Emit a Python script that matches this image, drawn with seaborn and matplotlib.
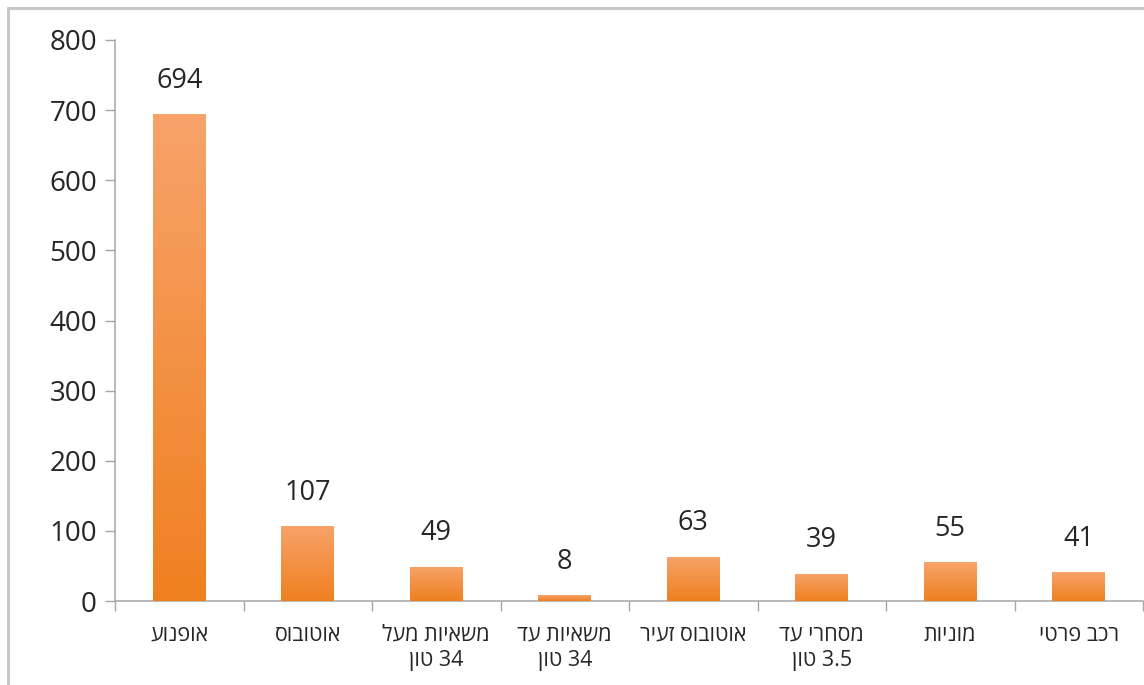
import matplotlib

matplotlib.use("Agg")
import matplotlib.pyplot as plt
import numpy as np
import pandas as pd
import seaborn as sns
from matplotlib.colors import LinearSegmentedColormap
from matplotlib.lines import Line2D

CATEGORIES = [
    "אופנוע",
    "אוטובוס",
    "משאיות מעל\n34 טון",
    "משאיות עד\n34 טון",
    "אוטובוס זעיר",
    "מסחרי עד\n3.5 טון",
    "מוניות",
    "רכב פרטי",
]
VALUES = [694, 107, 49, 8, 63, 39, 55, 41]
Y_TICKS = [0, 100, 200, 300, 400, 500, 600, 700, 800]

TOP_COLOR = "#F7A36A"
BOTTOM_COLOR = "#EF8020"
TEXT_COLOR = "#262626"
AXIS_COLOR = "#A6A6A6"


def is_hebrew(word: str) -> bool:
    return any("\u0590" <= ch <= "\u05FF" for ch in word)


def visual(text: str) -> str:
    """Turn a logical RTL string into left-to-right visual order for matplotlib."""
    lines = []
    for line in text.split("\n"):
        words = line.split(" ")[::-1]
        words = [w[::-1] if is_hebrew(w) else w for w in words]
        lines.append(" ".join(words))
    return "\n".join(lines)


def main() -> None:
    sns.set_theme(style="white")
    plt.rcParams["font.family"] = ["Open Sans", "Liberation Sans", "DejaVu Sans"]

    df = pd.DataFrame({"category": [visual(c) for c in CATEGORIES], "value": VALUES})

    fig = plt.figure(figsize=(11.44, 6.85), dpi=100)
    ax = fig.add_axes([115 / 1144, 1 - 601 / 685, (1143 - 115) / 1144, (601 - 40) / 685])

    sns.barplot(data=df, x="category", y="value", ax=ax, width=0.41,
                color=BOTTOM_COLOR, saturation=1, zorder=2)

    ax.set_xlim(-0.5, len(VALUES) - 0.5)
    ax.set_ylim(0, 800)

    # vertical gradient in each bar, light at the top
    cmap = LinearSegmentedColormap.from_list("bar", [BOTTOM_COLOR, TOP_COLOR])
    grad = np.linspace(0, 1, 256).reshape(-1, 1)
    for patch in ax.patches:
        x, w, h = patch.get_x(), patch.get_width(), patch.get_height()
        im = ax.imshow(grad, extent=[x, x + w, 0, h], origin="lower", cmap=cmap,
                       aspect="auto", zorder=3)
        im.set_clip_path(patch)
        patch.set_facecolor("none")
        patch.set_edgecolor("none")
        ax.annotate(f"{int(h)}", (x + w / 2, h), xytext=(0, 14), textcoords="offset points",
                    ha="center", va="bottom", fontsize=19.5, color=TEXT_COLOR)

    ax.set_xlim(-0.5, len(VALUES) - 0.5)
    ax.set_ylim(0, 800)

    ax.set_yticks(Y_TICKS)
    ax.set_xlabel("")
    ax.set_ylabel("")
    ax.tick_params(axis="y", labelsize=20, labelcolor=TEXT_COLOR, left=True,
                   length=7, width=1, color=AXIS_COLOR, pad=6)
    ax.tick_params(axis="x", which="major", labelsize=15.5, labelcolor=TEXT_COLOR,
                   bottom=False, length=0, pad=17)
    ax.set_xticks(np.arange(-0.5, len(VALUES) + 0.5), minor=True)
    ax.tick_params(axis="x", which="minor", bottom=True, length=7, width=1,
                   color=AXIS_COLOR, direction="out")
    for lbl in ax.get_xticklabels():
        lbl.set_verticalalignment("top")
        lbl.set_multialignment("center")
        lbl.set_linespacing(1.25)

    for side in ["top", "right"]:
        ax.spines[side].set_visible(False)
    for side in ["left", "bottom"]:
        ax.spines[side].set_color(AXIS_COLOR)
        ax.spines[side].set_linewidth(1.1)
    ax.grid(False)

    # outer chart frame
    x0, y0 = 8 / 1144, 1 - 8 / 685
    fig.add_artist(Line2D([x0, x0], [0, y0], color="#C8C8C8", linewidth=2.2,
                          transform=fig.transFigure))
    fig.add_artist(Line2D([x0, 1], [y0, y0], color="#C8C8C8", linewidth=2.2,
                          transform=fig.transFigure))

    fig.savefig("out.png", dpi=100, facecolor="white")


if __name__ == "__main__":
    main()
